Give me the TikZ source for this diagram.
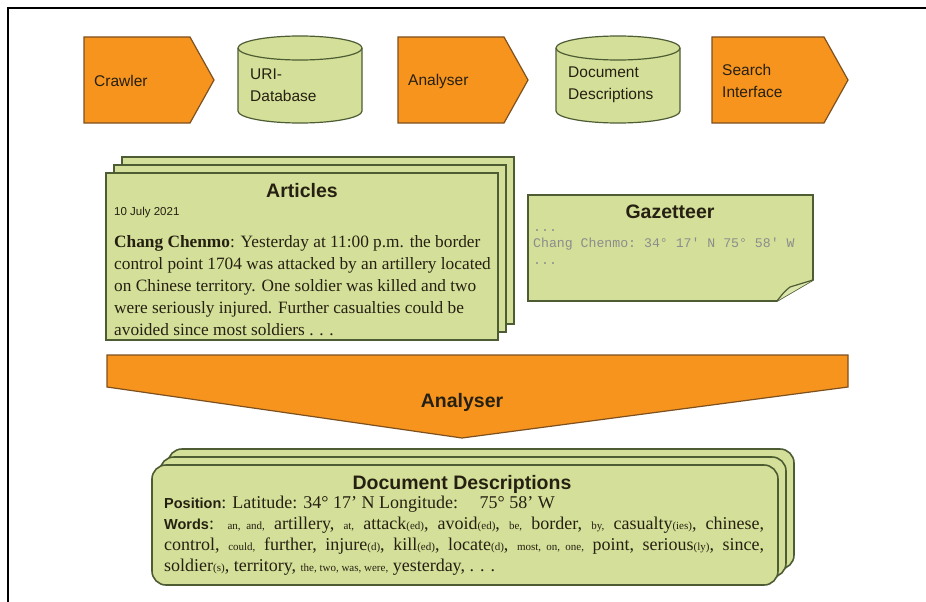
\documentclass[tikz,border=0pt]{standalone}
\usepackage{fontspec}
\setmainfont{Liberation Serif}
\setsansfont{Liberation Sans}
\setmonofont{Liberation Mono}
\usetikzlibrary{calc}
\definecolor{flowOrange}{RGB}{247,148,30}
\definecolor{flowBrown}{RGB}{125,80,30}
\definecolor{sheetGreen}{RGB}{212,224,153}
\definecolor{sheetEdge}{RGB}{78,92,52}
\definecolor{inkDark}{RGB}{38,32,18}
\tikzset{
  chevron/.style={fill=flowOrange, draw=flowBrown, line width=1.2pt, line join=miter},
  tank/.style={fill=sheetGreen, draw=sheetEdge, line width=1.2pt},
  sheet/.style={fill=sheetGreen, draw=sheetEdge, line width=1.6pt},
  toplabel/.style={font=\sffamily\fontsize{15.5}{22}\selectfont, text=inkDark, align=left, inner sep=0pt},
  heading/.style={font=\sffamily\bfseries\fontsize{19.5}{21}\selectfont, text=inkDark, inner sep=0pt},
}
\newcommand{\sw}[1]{{\fontsize{11}{11}\selectfont #1}}
\newcommand{\tagword}[1]{{\sffamily\bfseries\fontsize{14.5}{16}\selectfont #1}}
\providecommand{\Chevron}[4]{%
  % x of the left edge, length up to the point, name, text
  \filldraw[chevron] (#1,37) -- ++(#2,0) -- ++(24,43) -- ++(-24,43) -- ++(-#2,0) -- cycle;
  \node[toplabel, anchor=west] (#3) at (#1+10,81) {#4};
}
\providecommand{\Tank}[3]{%
  % x of the left edge, name, text
  \filldraw[tank] (#1,48) -- (#1,111) arc (180:0:62 and 12) -- (#1+124,48) arc (0:-180:62 and 12) -- cycle;
  \draw[tank] (#1,48) arc (180:0:62 and 12);
  \node[toplabel, anchor=west] (#2) at (#1+12,85) {#3};
}

\begin{document}
\begin{tikzpicture}[x=1pt, y=-1pt]
	\useasboundingbox (0,0) rectangle (926,602);
	\draw[line width=1.5pt] (8,602) -- (8,8) -- (926,8);

	% pipeline
	\Chevron{84}{106}{crawler}{Crawler}
	\Tank{238}{uridb}{URI-\\Database}
	\Chevron{398}{106}{analyser}{Analyser}
	\Tank{556}{docdb}{Document\\Descriptions}
	\Chevron{712}{112}{search}{Search\\Interface}

	% articles
	\foreach \d in {16,8,0}
		\filldraw[sheet] (106+\d,173-\d) rectangle (498+\d,340-\d);
	\node[heading] (articles) at (302,191) {Articles};
	\node[anchor=west, inner sep=0pt, font=\sffamily\fontsize{11.5}{13}\selectfont, text=inkDark] (articlesDate) at (114,213) {10 July 2021};
	\node[anchor=north west, align=left, inner sep=0pt, text=inkDark, font=\fontsize{17.3}{22}\selectfont] (articlesBody) at (114,235)
		{\textbf{Chang Chenmo}: Yesterday at 11:00 p.m. the border\\
		control point 1704 was attacked by an artillery located\\
		on Chinese territory. One soldier was killed and two\\
		were seriously injured. Further casualties could be\\
		avoided since most soldiers . . .};

	% gazetteer
	\filldraw[sheet] (528,195) -- (813,195) -- (813,280) -- (777,301) -- (528,301) -- cycle;
	\filldraw[sheet, line width=1.2pt, fill=sheetGreen!80!white] (777,301) .. controls (784,292) .. (790,287) -- (813,280);
	\node[heading] (gazetteer) at (670,212) {Gazetteer};
	\node[anchor=north west, align=left, inner sep=0pt, text=black!45, font=\ttfamily\fontsize{13.2}{16.5}\selectfont] (gazetteerLines) at (533,229)
		{...\\ Chang Chenmo: 34° 17' N 75° 58' W\\ ...};

	% analyser
	\filldraw[chevron] (107,355) -- (848,355) -- (848,387) -- (462,438) -- (107,387) -- cycle;
	\node[heading] (analyserBig) at (462,402) {Analyser};

	% document descriptions
	\foreach \d in {16,8,0}
		\filldraw[sheet, rounded corners=14pt] (152+\d,465-\d) rectangle (778+\d,585-\d);
	\node[heading] (descriptions) at (462,484) {Document Descriptions};
	\node[anchor=north west, align=left, inner sep=0pt, text=inkDark, font=\fontsize{18}{21}\selectfont] (descriptionsBody) at (164,496)
		{\tagword{Position}: Latitude: 34° 17' N Longitude:\hspace{1.2em}75° 58' W\\
		\makebox[600pt][s]{\tagword{Words}: \sw{an, and,} artillery, \sw{at,} attack\sw{(ed)}, avoid\sw{(ed)}, \sw{be,} border, \sw{by,} casualty\sw{(ies)}, chinese,}\\
		\makebox[600pt][s]{control, \sw{could,} further, injure\sw{(d)}, kill\sw{(ed)}, locate\sw{(d)}, \sw{most, on, one,} point, serious\sw{(ly)}, since,}\\
		soldier\sw{(s)}, territory, \sw{the, two, was, were,} yesterday, . . .};
\end{tikzpicture}
\end{document}
